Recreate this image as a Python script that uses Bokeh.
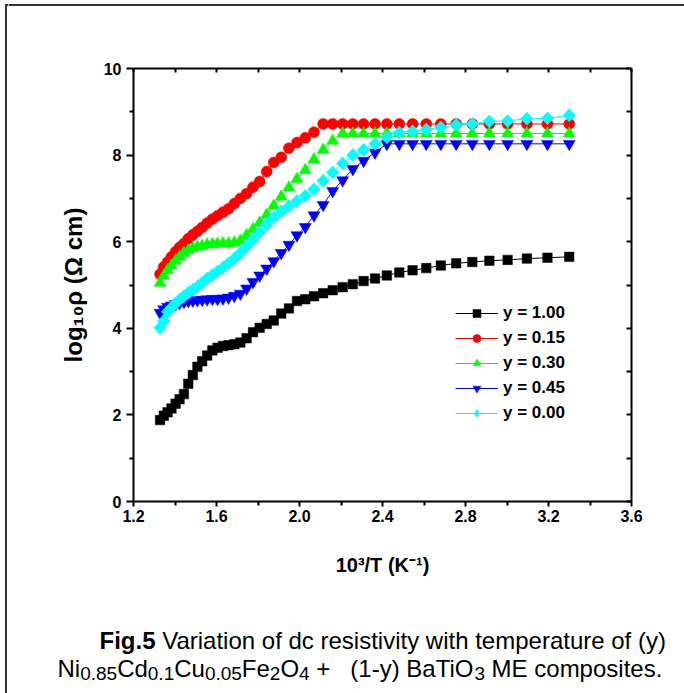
from bokeh.plotting import figure
from bokeh.layouts import column, row
from bokeh.models import (Range1d, LinearAxis, FixedTicker, Legend, LegendItem, Label,
                          PrintfTickFormatter, CustomJSTickFormatter)
from bokeh.embed import file_html
from bokeh.resources import INLINE

# ---------------- data ----------------
x_inv_T = [1.328, 1.346, 1.364, 1.383, 1.403, 1.422, 1.443, 1.464, 1.486, 1.508,
           1.531, 1.555, 1.580, 1.605, 1.631, 1.658, 1.686, 1.715, 1.745, 1.776,
           1.808, 1.842, 1.876, 1.912, 1.949, 1.988, 2.028, 2.070, 2.114, 2.160,
           2.208, 2.257, 2.309, 2.364, 2.421, 2.481, 2.545, 2.611, 2.681, 2.755,
           2.833, 2.915, 3.003, 3.096, 3.195, 3.300]

rho_y100 = [1.88, 1.98, 2.06, 2.15, 2.26, 2.36, 2.48, 2.72, 2.92, 3.11,
            3.24, 3.37, 3.49, 3.55, 3.59, 3.61, 3.63, 3.67, 3.77, 3.91,
            4.01, 4.10, 4.18, 4.34, 4.46, 4.63, 4.67, 4.74, 4.81, 4.88,
            4.95, 5.02, 5.09, 5.15, 5.22, 5.29, 5.34, 5.39, 5.45, 5.50,
            5.53, 5.56, 5.58, 5.61, 5.63, 5.65]

rho_y015 = [5.25, 5.42, 5.53, 5.65, 5.77, 5.87, 5.96, 6.07, 6.16, 6.24,
            6.33, 6.43, 6.52, 6.60, 6.68, 6.76, 6.88, 7.00, 7.11, 7.26,
            7.39, 7.62, 7.83, 7.95, 8.16, 8.29, 8.40, 8.53, 8.72, 8.72,
            8.72, 8.72, 8.72, 8.72, 8.72, 8.72, 8.72, 8.72, 8.72, 8.72,
            8.72, 8.72, 8.72, 8.72, 8.72, 8.72]

rho_y030 = [5.05, 5.21, 5.34, 5.45, 5.56, 5.65, 5.74, 5.80, 5.85, 5.88,
            5.90, 5.93, 5.94, 5.95, 5.96, 5.96, 5.98, 6.02, 6.15, 6.29,
            6.44, 6.62, 6.83, 7.04, 7.25, 7.45, 7.65, 7.90, 8.12, 8.33,
            8.50, 8.50, 8.50, 8.50, 8.50, 8.50, 8.50, 8.50, 8.50, 8.50,
            8.50, 8.50, 8.50, 8.50, 8.50, 8.50]

rho_y045 = [4.36, 4.44, 4.50, 4.53, 4.56, 4.58, 4.61, 4.63, 4.64, 4.65,
            4.66, 4.67, 4.68, 4.68, 4.69, 4.71, 4.75, 4.80, 4.92, 5.07,
            5.22, 5.38, 5.55, 5.74, 5.93, 6.15, 6.34, 6.61, 6.85, 7.17,
            7.42, 7.68, 7.87, 8.06, 8.26, 8.26, 8.26, 8.26, 8.26, 8.26,
            8.26, 8.26, 8.26, 8.26, 8.26, 8.26]

rho_y000 = [4.01, 4.17, 4.38, 4.48, 4.58, 4.66, 4.74, 4.82, 4.89, 4.96,
            5.05, 5.15, 5.23, 5.31, 5.40, 5.50, 5.61, 5.74, 5.89, 6.05,
            6.22, 6.40, 6.56, 6.70, 6.82, 6.94, 7.06, 7.21, 7.41, 7.60,
            7.81, 8.00, 8.12, 8.26, 8.41, 8.52, 8.55, 8.59, 8.64, 8.70,
            8.72, 8.78, 8.79, 8.84, 8.85, 8.92]

series_labels = ["y = 1.00", "y = 0.15", "y = 0.30", "y = 0.45", "y = 0.00"]

x_major_ticks = [1.2, 1.6, 2.0, 2.4, 2.8, 3.2, 3.6]
x_minor_ticks = [1.4, 1.8, 2.2, 2.6, 3.0, 3.4]
x_top_ticks = [1.2, 1.4, 1.6, 1.8, 2.0, 2.2, 2.4, 2.6, 2.8, 3.0, 3.2, 3.4, 3.6]
y_major_ticks = [0, 2, 4, 6, 8, 10]
y_minor_ticks = [1, 3, 5, 7, 9]
y_right_ticks = [0, 1, 2, 3, 4, 5, 6, 7, 8, 9, 10]

FONT = "Liberation Sans"
FRAME_COL = "#333333"
W, H = 684, 693
LEFT_W = 8     # strip with the left edge of the outer frame (page x 0..8)
TOP_H = 40     # strip with the top edge of the outer frame (page y 0..40)
H1 = 570       # chart part (page y 40 .. 610)
H2 = H - TOP_H - H1   # caption part (page y 610 .. 693)
RW = W - LEFT_W


def no_align(f):
    try:
        f.frame_align = False
    except Exception:
        pass


def plain_fig(w, h, xr, yr):
    f = figure(width=w, height=h, output_backend="svg", toolbar_location=None, tools="",
               title=None, x_range=Range1d(*xr), y_range=Range1d(*yr),
               x_axis_location=None, y_axis_location=None,
               min_border_left=0, min_border_right=0, min_border_top=0, min_border_bottom=0)
    f.xgrid.grid_line_color = None
    f.ygrid.grid_line_color = None
    f.outline_line_color = None
    f.background_fill_color = "white"
    f.border_fill_color = "white"
    no_align(f)
    return f


# ---------------- main chart (frame: page x 133..631, y 68..501) ----------------
p = figure(width=RW, height=H1, output_backend="svg", toolbar_location=None, tools="",
           title=None, x_range=Range1d(1.2, 3.6), y_range=Range1d(0, 10),
           x_axis_location=None, y_axis_location=None,
           min_border_left=125, min_border_right=53, min_border_top=28, min_border_bottom=109)
p.xgrid.grid_line_color = None
p.ygrid.grid_line_color = None
p.outline_line_color = None
p.background_fill_color = "white"
p.border_fill_color = "white"
no_align(p)


def style_axis(ax):
    ax.axis_line_color = "black"
    ax.axis_line_width = 2
    ax.major_tick_line_color = "black"
    ax.major_tick_line_width = 2
    ax.minor_tick_line_color = "black"
    ax.minor_tick_line_width = 2
    ax.major_label_text_font = FONT
    ax.major_label_text_font_style = "bold"
    ax.major_label_text_font_size = "16px"
    ax.major_label_text_color = "black"
    ax.axis_label_text_font = FONT
    ax.axis_label_text_font_style = "bold"
    ax.axis_label_text_color = "black"


bottom = LinearAxis(ticker=FixedTicker(ticks=x_major_ticks, minor_ticks=x_minor_ticks),
                    formatter=PrintfTickFormatter(format="%.1f"),
                    axis_label="10³/T (K⁻¹)")
style_axis(bottom)
bottom.major_tick_out = 5
bottom.major_tick_in = 0
bottom.minor_tick_out = 4
bottom.minor_tick_in = 0
bottom.major_label_standoff = 3
bottom.axis_label_text_font_size = "20px"
bottom.axis_label_standoff = 29
p.add_layout(bottom, "below")

left = LinearAxis(ticker=FixedTicker(ticks=y_major_ticks, minor_ticks=y_minor_ticks),
                  axis_label="log₁₀ρ (Ω cm)")
style_axis(left)
left.major_tick_out = 7
left.major_tick_in = 0
left.minor_tick_out = 4
left.minor_tick_in = 0
left.major_label_standoff = 5
left.axis_label_text_font_size = "24px"
left.axis_label_standoff = 14
p.add_layout(left, "left")

blank = CustomJSTickFormatter(code="return ''")

top = LinearAxis(ticker=FixedTicker(ticks=x_top_ticks, minor_ticks=[]), formatter=blank)
style_axis(top)
top.major_tick_in = 4
top.major_tick_out = 0
top.minor_tick_in = 0
top.minor_tick_out = 0
top.major_label_standoff = 0
p.add_layout(top, "above")

right = LinearAxis(ticker=FixedTicker(ticks=y_right_ticks, minor_ticks=[]), formatter=blank)
style_axis(right)
right.major_tick_in = 5
right.major_tick_out = 0
right.minor_tick_in = 0
right.minor_tick_out = 0
right.major_label_standoff = 0
p.add_layout(right, "right")

# marker spec: (values, colour, marker, size, angle, legend marker, legend size)
specs = [
    (rho_y100, "black", "square", 9.5, 0.0, None, None),
    (rho_y015, "#ff0000", "circle", 11, 0.0, None, None),
    (rho_y030, "#00ff00", "triangle", 12, 0.0, None, None),
    (rho_y045, "#0000ff", "inverted_triangle", 12, 0.0, None, None),
    (rho_y000, "#00ffff", "square", 9, 0.785398, "diamond", 12.5),
]
items = []
for (yv, col, mk, sz, ang, lmk, lsz), lab in zip(specs, series_labels):
    lr = p.line(x_inv_T, yv, line_color=col, line_width=1)
    leg_r = None
    if lmk is not None:
        # same points drawn as plain diamonds underneath (fully hidden by the
        # rotated squares); used for the legend, which does not rotate markers
        leg_r = p.scatter(x_inv_T, yv, marker=lmk, size=lsz,
                          fill_color=col, line_color=col, line_width=0.5)
    sr = p.scatter(x_inv_T, yv, marker=mk, size=sz, angle=ang,
                   fill_color=col, line_color=col, line_width=0.5)
    items.append(LegendItem(label=lab, renderers=[lr, leg_r if leg_r is not None else sr]))

legend = Legend(items=items, location=(322, 78), orientation="vertical",
                glyph_width=43, glyph_height=20, label_height=20, spacing=5,
                padding=0, margin=0, label_standoff=5,
                border_line_color=None, background_fill_alpha=0,
                label_text_font=FONT, label_text_font_style="bold",
                label_text_font_size="17px", label_text_color="black")
p.add_layout(legend)

# ---------------- outer frame (page coordinates) ----------------
left_strip = plain_fig(LEFT_W, H, (0, LEFT_W), (H, 0))
left_strip.segment(x0=[5.5], y0=[3.5], x1=[5.5], y1=[H], line_color=FRAME_COL, line_width=2)
left_strip.segment(x0=[4.5], y0=[4.5], x1=[LEFT_W], y1=[4.5], line_color=FRAME_COL, line_width=2)

top_strip = plain_fig(RW, TOP_H, (LEFT_W, W), (TOP_H, 0))
top_strip.segment(x0=[LEFT_W], y0=[4.5], x1=[W], y1=[4.5], line_color=FRAME_COL, line_width=2)

# ---------------- caption panel (page coordinates) ----------------
Y0 = TOP_H + H1
p2 = plain_fig(RW, H2, (LEFT_W, W), (H, Y0))

AW = {' ': 278, '+': 584, '(': 333, ')': 333, '-': 333, '.': 278,
      '0': 556, '1': 556, '2': 556, '3': 556, '4': 556, '5': 556, '8': 556,
      'B': 667, 'C': 722, 'E': 667, 'F': 611, 'M': 833, 'N': 722, 'O': 778,
      'T': 611, 'V': 667, 'a': 556, 'c': 500, 'd': 556, 'e': 556, 'f': 278,
      'g': 556, 'h': 556, 'i': 222, 'l': 222, 'm': 833, 'n': 556, 'o': 556,
      'p': 556, 'r': 333, 's': 500, 't': 278, 'u': 556, 'v': 500, 'w': 722,
      'y': 500}
AWB = dict(AW)
AWB.update({'g': 611, 'i': 278, 'F': 611})


def tw(s, size, bold=False):
    tab = AWB if bold else AW
    return sum(tab.get(c, 556) for c in s) * size / 1000.0


def place(tokens, x0, base):
    x = x0
    for txt, size, bold, dy in tokens:
        lead = len(txt) - len(txt.lstrip(' '))
        body = txt.strip(' ')
        xs = x + tw(' ' * lead, size, bold)
        if body:
            p2.add_layout(Label(x=xs, y=base + dy, text=body, text_font=FONT,
                                text_font_size=f"{size}px",
                                text_font_style="bold" if bold else "normal",
                                text_color="black", text_baseline="alphabetic",
                                text_align="left"))
        x += tw(txt, size, bold)


M, S, D = 24, 19, 5
line1 = [("Fig.5", M, True, 0), (" Variation of dc resistivity with temperature of (y)", M, False, 0)]
line2 = [("Ni", M, False, 0), ("0.85", S, False, D), ("Cd", M, False, 0), ("0.1", S, False, D),
         ("Cu", M, False, 0), ("0.05", S, False, D), ("Fe", M, False, 0), ("2", S, False, D),
         ("O", M, False, 0), ("4", S, False, D), (" +", M, False, 0), ("   (1-y) BaTiO", M, False, 0),
         ("3", S, False, D), (" ME composites.", M, False, 0)]
place(line1, 99, 640)
place(line2, 57, 668)

layout = row(left_strip, column(top_strip, p, p2))
open("out.html", "w").write(file_html(layout, INLINE))
